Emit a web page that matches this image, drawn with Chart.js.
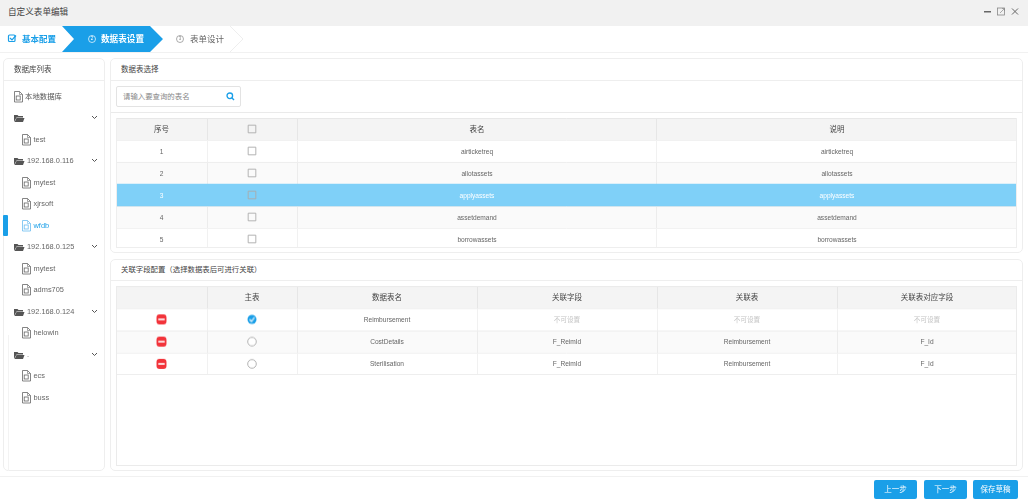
<!DOCTYPE html>
<html lang="zh"><head><meta charset="utf-8"><title>自定义表单编辑</title>
<script src="https://cdn.jsdelivr.net/npm/chart.js@4/dist/chart.umd.min.js"></script>
<style>
html,body{margin:0;padding:0;width:1028px;height:500px;overflow:hidden;background:#fff;font-family:"Liberation Sans","Noto Sans CJK SC",sans-serif;}
#root{position:absolute;left:0;top:0;width:1028px;height:500px;filter:blur(.3px)}
.box{position:absolute;box-sizing:border-box}
.t{position:absolute;white-space:nowrap;line-height:1;transform:translateY(-50%)}
.c{transform:translate(-50%,-50%)}
.panel{border:1px solid #eee;border-radius:5px;background:#fff}
canvas{position:absolute;left:0;top:0}
svg{position:absolute;overflow:visible}
</style></head><body>
<div id="root"></div>
<script>
const title = "自定义表单编辑";
const steps = ["基本配置", "数据表设置", "表单设计"];
const treeTitle = "数据库列表";
const treeLabels = ["本地数据库","","test","192.168.0.116","mytest","xjrsoft","wfdb","192.168.0.125","mytest","adms705","192.168.0.124","helowin",".","ecs","buss"];
const treeKinds = ["file","folder","sub","folder","sub","sub","sub","folder","sub","sub","folder","sub","folder","sub","sub"];
const treeSelected = "wfdb";
const tableRowNumbers = ["序号","1","2","3","4","5"];
const tableNames = ["表名","airticketreq","allotassets","applyassets","assetdemand","borrowassets"];
const tableNotes = ["说明","airticketreq","allotassets","applyassets","assetdemand","borrowassets"];
const selectedRow = 3;
const linkMain = ["主表","","",""];
const linkTables = ["数据表名","Reimbursement","CostDetails","Sterilisation"];
const linkFields = ["关联字段","不可设置","F_ReimId","F_ReimId"];
const linkTargets = ["关联表","不可设置","Reimbursement","Reimbursement"];
const linkTargetFields = ["关联表对应字段","不可设置","F_Id","F_Id"];
const buttons = ["上一步","下一步","保存草稿"];

const root = document.getElementById('root');
const BLUE = '#1a9fe8';
function box(x,y,w,h,css,cls){const d=document.createElement('div');d.className='box '+(cls||'');d.style.cssText=`left:${x}px;top:${y}px;width:${w}px;height:${h}px;${css||''}`;root.appendChild(d);return d;}
function txt(x,y,s,size,color,center,extra,parent){const d=document.createElement('div');d.className='t'+(center?' c':'');d.textContent=s;d.style.cssText=`left:${x}px;top:${y}px;font-size:${size}px;color:${color};${extra||''}`;(parent||root).appendChild(d);return d;}
function svg(x,y,w,h,inner){const n=document.createElementNS('http://www.w3.org/2000/svg','svg');n.setAttribute('width',w);n.setAttribute('height',h);n.setAttribute('viewBox',`0 0 ${w} ${h}`);n.style.left=x+'px';n.style.top=y+'px';n.innerHTML=inner;root.appendChild(n);return n;}
function hline(x,y,w,c){box(x,y,w,1,`background:${c||'#ececec'}`);}

// title bar
box(0,0,1028,26,'background:#f1f1f1');
txt(8,12,title,8.6,'#444');
svg(984,6,40,12,`<rect x="0" y="5" width="7" height="1.5" fill="#666"/>
<rect x="13.5" y="2" width="7" height="7" fill="none" stroke="#888" stroke-width=".8"/><path d="M16 7l4-4M18 2.5h2.5V5" stroke="#888" stroke-width=".7" fill="none"/>
<path d="M28 2.5l6 6M34 2.5l-6 6" stroke="#666" stroke-width="1" fill="none"/>`);

// steps
hline(0,52,1028,'#f1f1f1');
svg(0,26,260,26,`<path d="M230 0L243 13L230 26" fill="#fff" stroke="#eee"/>
<polygon points="62,0 150,0 163,13 150,26 62,26 74,13" fill="${BLUE}"/>
<rect x="8.5" y="9" width="6.5" height="6.5" rx="1" fill="none" stroke="${BLUE}" stroke-width="1.2"/><path d="M10 12l2 2 4-4.5" fill="none" stroke="${BLUE}" stroke-width="1.2"/>
<circle cx="92" cy="13" r="3.5" fill="none" stroke="#fff" stroke-width=".7"/>
<circle cx="180" cy="13" r="3.5" fill="none" stroke="#888" stroke-width=".7"/>`);
txt(92,39,'2',4.5,'#fff',true);
txt(180,39,'3',4.5,'#888',true);
txt(22,38.5,steps[0],8.5,BLUE,false,'font-weight:700');
txt(101,38.5,steps[1],8.6,'#fff',false,'font-weight:700');
txt(190,38.5,steps[2],8.5,'#666');

// left panel
box(3,58,102,413,'','panel');
box(8,335,97,136,'border-left:1px solid #f3f3f3');
txt(14,69.5,treeTitle,7.5,'#444');
hline(4,80,100,'#eee');
const fileIcon = c=>`<path d="M.5 .5h5l3 3v7.5h-8z" fill="#fff" stroke="${c}" stroke-width=".8"/><path d="M5.5 .5v3h3" fill="none" stroke="${c}" stroke-width=".6"/><rect x="2.2" y="5" width="4" height="4" fill="none" stroke="${c}" stroke-width=".8"/>`;
const folderIcon = `<path d="M0 2h3.5l1 1h4.5v1.5H2.5L0 9z" fill="#555"/><path d="M2.5 5h8L9 9H.6z" fill="#555"/>`;
const chevron = `<path d="M0 0l2.5 2.5L5 0" fill="none" stroke="#555" stroke-width="1"/>`;
treeLabels.forEach((label,i)=>{
  const y = 96.5 + i*21.5;
  const kind = treeKinds[i];
  const on = label===treeSelected;
  const color = on ? BLUE : '#666';
  if(kind==='file'){svg(14,y-6,10,12,fileIcon('#666'));txt(25,y,label,7.4,'#555');}
  if(kind==='sub'){svg(22,y-6,10,12,fileIcon(on?'#6bbcf0':'#666'));txt(33.5,y,label,7.4,color);}
  if(kind==='folder'){svg(14,y-5,11,10,folderIcon);txt(27,y,label,7.4,'#666');svg(92,y-2,6,4,chevron);}
  if(on) box(3,y-10.5,5,21,`background:${BLUE};border-radius:1px`);
});

// right panels
box(110,58,913,195,'','panel');
txt(121,69.5,"数据表选择",7.5,'#444');
hline(111,80,911,'#eee');
box(116,86,125,21,'border:1px solid #e3e3e3;border-radius:2px');
txt(123,96.5,"请输入要查询的表名",7.4,'#888');
svg(226,92,9,9,`<circle cx="3.8" cy="3.8" r="2.8" fill="none" stroke="${BLUE}" stroke-width="1.3"/><path d="M5.8 5.8L8 8" stroke="${BLUE}" stroke-width="1.4"/>`);
hline(111,112,911,'#eaeaea');

box(110,259,913,212,'','panel');
txt(121,270,"关联字段配置（选择数据表后可进行关联）",7.4,'#444');
hline(111,280,911,'#eee');

// tables as Chart.js charts: row bands, grid rules and marks come from the library
const checkCanvas = (()=>{const c=document.createElement('canvas');c.width=c.height=7;const g=c.getContext('2d');g.strokeStyle='#fff';g.lineWidth=1.2;g.beginPath();g.moveTo(1,3.5);g.lineTo(3,5.5);g.lineTo(6,1.5);g.stroke();return c;})();

function tableChart(opts){
  const holder = box(opts.x,opts.y,opts.w,opts.clip||opts.h,'overflow:hidden');
  const canvas = document.createElement('canvas');
  canvas.width=opts.w;canvas.height=opts.h;canvas.style.width=opts.w+'px';canvas.style.height=opts.h+'px';
  holder.appendChild(canvas);
  const chart = new Chart(canvas,{
    type:'bar',
    data:{labels:opts.labels,datasets:[
      {type:'bar',order:5,data:opts.labels.map(()=>[0,opts.w]),backgroundColor:opts.bandColors,barPercentage:1,categoryPercentage:1,borderWidth:0},
      ...opts.marks.map(m=>({type:'line',showLine:false,parsing:{xAxisKey:'x',yAxisKey:'y'},data:m.data,pointStyle:m.style,pointRadius:m.r,pointBackgroundColor:m.fill,pointBorderColor:m.stroke,pointBorderWidth:m.sw,order:m.order||1}))
    ]},
    options:{indexAxis:'y',responsive:false,animation:false,devicePixelRatio:1,events:[],
      layout:{padding:0,autoPadding:false},
      plugins:{legend:{display:false},tooltip:{enabled:false}},
      scales:{
        x:{type:'linear',min:0,max:opts.w,display:true,border:{display:false},
           afterBuildTicks:a=>{a.ticks=opts.edges.map(v=>({value:v}));},
           afterFit:a=>{a.height=0;},
           ticks:{display:false},grid:{color:'#f1f1f1',drawTicks:false,lineWidth:1}},
        y:{type:'category',display:true,border:{display:false},
           afterFit:a=>{a.width=0;},
           ticks:{display:false},grid:{color:'#f3f3f3',drawTicks:false,offset:true,lineWidth:1}}
      }}
  });
  const xs=chart.scales.x, ys=chart.scales.y;
  opts.columns.forEach(col=>{
    col.values.forEach((v,i)=>{
      if(!v) return;
      const head=i===0, sel=opts.selected===i, muted=v==='不可设置';
      txt(xs.getPixelForValue(col.at),ys.getPixelForValue(i)+1,v,head?7.5:6.6,
          sel?'#fff':head?'#444':muted?'#c4c4c4':'#666',true,'',holder);
    });
  });
  return chart;
}

const HEAD='rgba(0,0,0,.045)',STRIPE='rgba(0,0,0,.02)',NONE='rgba(0,0,0,0)',SEL='#7fd0f8';

const t1 = tableRowNumbers;
tableChart({x:116,y:118,w:901,h:132,clip:130,labels:t1,selected:selectedRow,
  edges:[91,181,540],
  bandColors:t1.map((_,i)=>i===0?HEAD:i===selectedRow?SEL:i%2===0?STRIPE:NONE),
  columns:[{at:45.5,values:tableRowNumbers},{at:361,values:tableNames},{at:721,values:tableNotes}],
  marks:[{data:t1.map(l=>({x:136,y:l})),style:'rect',r:5.4,fill:'rgba(255,255,255,.0)',stroke:'#aaa',sw:.9}]
});
box(116,118,901,130,'border:1px solid #eee;border-top:0;pointer-events:none');

const t2 = linkTables;
const rowsOnly = t2.slice(1);
tableChart({x:116,y:286,w:901,h:88.5,labels:t2,
  edges:[91,181,361,541,721],
  bandColors:t2.map((_,i)=>i===0?HEAD:i===2?STRIPE:NONE),
  columns:[{at:136,values:linkMain},{at:271,values:linkTables},{at:451,values:linkFields},{at:631,values:linkTargets},{at:811,values:linkTargetFields}],
  marks:[
    {data:rowsOnly.map(l=>({x:45.5,y:l})),style:'rectRounded',r:5.8,fill:'#f2333a',stroke:'#f2333a',sw:0,order:3},
    {data:rowsOnly.map(l=>({x:45.5,y:l})),style:'line',r:3.2,fill:'#fff',stroke:'#fff',sw:1.6,order:2},
    {data:rowsOnly.slice(1).map(l=>({x:136,y:l})),style:'circle',r:4.3,fill:'#fff',stroke:'#aaa',sw:.9},
    {data:rowsOnly.slice(0,1).map(l=>({x:136,y:l})),style:'circle',r:4.5,fill:BLUE,stroke:BLUE,sw:0,order:3},
    {data:rowsOnly.slice(0,1).map(l=>({x:136,y:l})),style:checkCanvas,r:3,fill:'#fff',stroke:'#fff',sw:0,order:2}
  ]
});
hline(116,374,901,'#eeeeee');
box(116,286,901,180,'border:1px solid #ebebeb;pointer-events:none');

// footer
hline(0,476,1028,'#f1f1f1');
[[874,43],[924,43],[973,45]].forEach(([x,w],i)=>{
  box(x,480,w,19,`background:${BLUE};border-radius:2px`);
  txt(x+w/2,489.5,buttons[i],7.5,'#fff',true);
});
</script>
</body></html>
